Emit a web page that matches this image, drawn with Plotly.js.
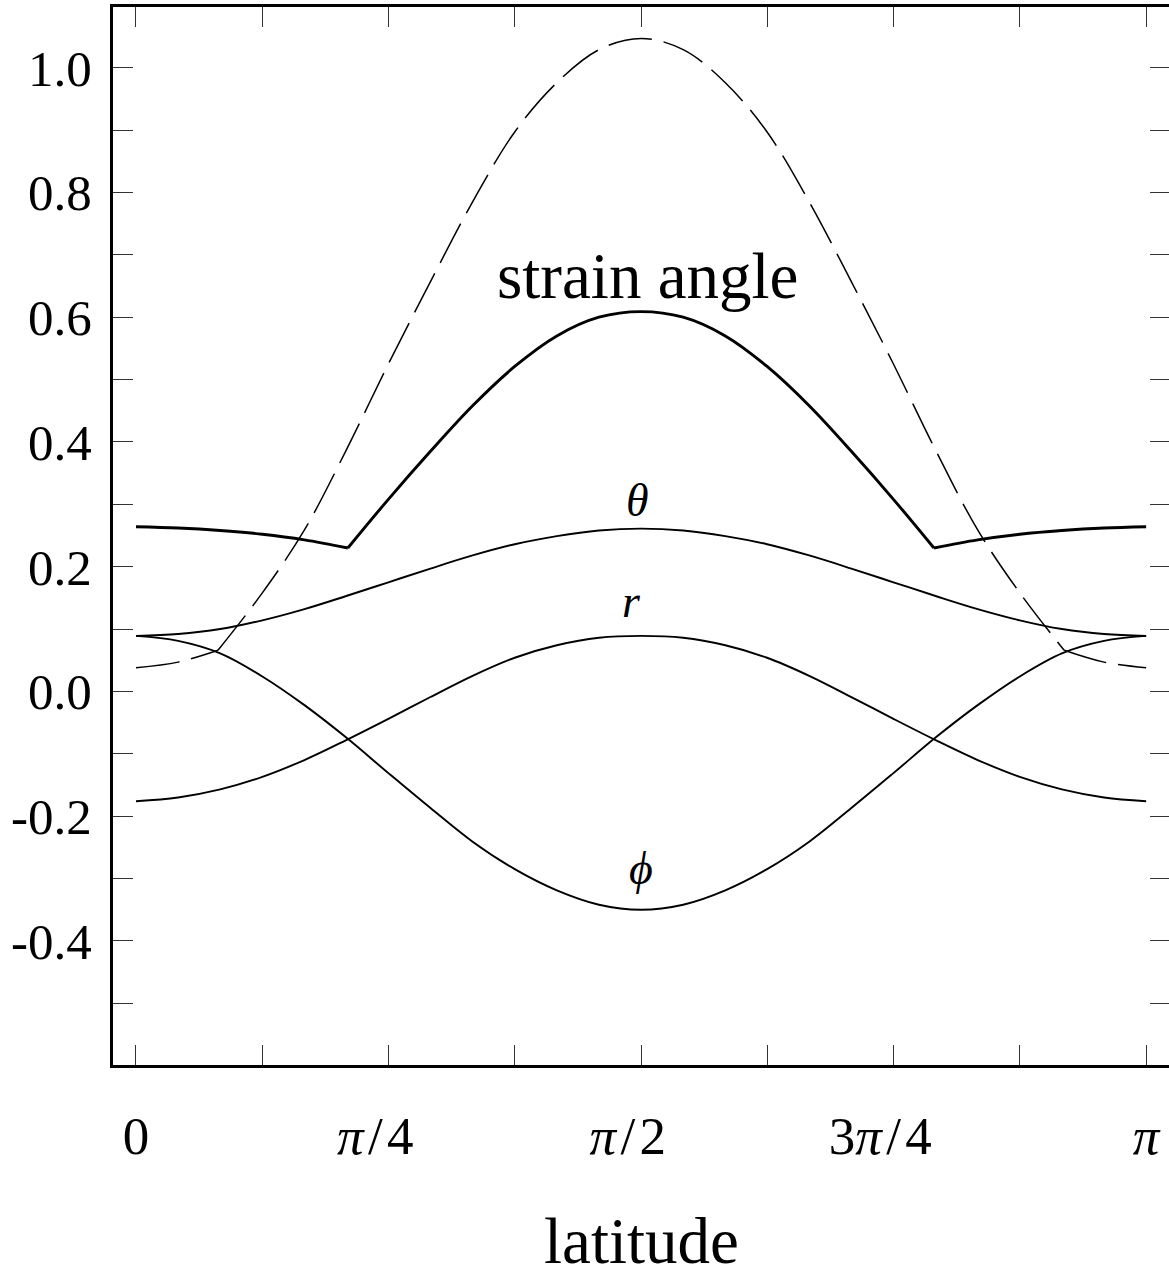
<!DOCTYPE html>
<html>
<head>
<meta charset="utf-8">
<script src="https://cdn.plot.ly/plotly-3.0.1.min.js"></script>
<style>
html, body { margin: 0; padding: 0; overflow: hidden; background: #fff; }
#chart { width: 1176px; height: 1277px; }
</style>
</head>
<body>
<div id="chart"></div>
<script>
// latitude samples (radians)
const latitude = [0, 0.131, 0.262, 0.393, 0.524, 0.654, 0.785, 0.916, 1.047, 1.178, 1.309, 1.440, 1.571,
                  1.702, 1.833, 1.963, 2.094, 2.225, 2.356, 2.487, 2.618, 2.749, 2.880, 3.011, 3.142];
const thetaVals = [0.089, 0.092, 0.100, 0.114, 0.132, 0.153, 0.175, 0.197, 0.218, 0.236, 0.249, 0.258, 0.261,
                   0.258, 0.249, 0.236, 0.218, 0.197, 0.175, 0.153, 0.132, 0.114, 0.100, 0.092, 0.089];
const rVals = [-0.176, -0.170, -0.157, -0.137, -0.110, -0.078, -0.044, -0.009, 0.025, 0.054, 0.074, 0.086, 0.089,
               0.086, 0.074, 0.054, 0.025, -0.009, -0.044, -0.078, -0.110, -0.137, -0.157, -0.170, -0.176];
const phiVals = [0.089, 0.081, 0.061, 0.024, -0.022, -0.074, -0.131, -0.187, -0.241, -0.285, -0.319, -0.342, -0.350,
                 -0.342, -0.319, -0.285, -0.241, -0.187, -0.131, -0.074, -0.022, 0.024, 0.061, 0.081, 0.089];

// dashed curve (kinks where it meets the phi curve, at indices 2 and 22)
const dashedLat = [0, 0.131, 0.255, 0.393, 0.524, 0.654, 0.785, 0.916, 1.047, 1.178, 1.309, 1.440, 1.571,
                   1.702, 1.833, 1.963, 2.094, 2.225, 2.356, 2.487, 2.618, 2.749, 2.887, 3.011, 3.142];
const dashedVals = [0.038, 0.047, 0.066, 0.158, 0.259, 0.387, 0.525, 0.657, 0.785, 0.897, 0.976, 1.029, 1.047,
                    1.029, 0.976, 0.897, 0.785, 0.657, 0.525, 0.387, 0.259, 0.158, 0.066, 0.047, 0.038];
const dashedKinks = [2, 22];

// strain angle (thick), kinks at indices 5 and 19
const strainLat = [0, 0.131, 0.262, 0.393, 0.524, 0.659, 0.785, 0.916, 1.047, 1.178, 1.309, 1.440, 1.571,
                   1.702, 1.833, 1.963, 2.094, 2.225, 2.356, 2.482, 2.618, 2.749, 2.880, 3.011, 3.142];
const strainVals = [0.264, 0.262, 0.258, 0.252, 0.243, 0.230, 0.308, 0.385, 0.458, 0.521, 0.570, 0.600, 0.609,
                    0.600, 0.570, 0.521, 0.458, 0.385, 0.308, 0.230, 0.243, 0.252, 0.258, 0.262, 0.264];
const strainKinks = [5, 19];

const xTickVals = [0, 0.3927, 0.7854, 1.1781, 1.5708, 1.9635, 2.3562, 2.7489, 3.1416];
const xTickText = ['0', '', '<i>π</i>\u200a/\u200a4\u2002', '', '<i>π</i>\u200a/\u200a2\u2002', '',
                   '3<i>π</i>\u200a/\u200a4\u2002', '', '<i>π</i>'];
const yTickVals = [-0.5, -0.4, -0.3, -0.2, -0.1, 0.0, 0.1, 0.2, 0.3, 0.4, 0.5, 0.6, 0.7, 0.8, 0.9, 1.0];
const yTickText = ['', '-0.4', '', '-0.2', '', '0.0', '', '0.2', '', '0.4', '', '0.6', '', '0.8', '', '1.0'];

const curveLabels = [
  {text: 'strain angle', x: 1.590, y: 0.666, size: 65, italic: false},
  {text: 'θ', x: 1.560, y: 0.306, size: 46, italic: true},
  {text: 'r', x: 1.542, y: 0.144, size: 46, italic: true},
  {text: 'ϕ', x: 1.571, y: -0.284, size: 46, italic: true}
];

const font = 'Liberation Serif, Times New Roman, DejaVu Serif, serif';

function segments(xs, ys, kinks, line) {
  const cuts = [0].concat(kinks, [xs.length - 1]);
  const out = [];
  for (let i = 0; i < cuts.length - 1; i++) {
    out.push({x: xs.slice(cuts[i], cuts[i + 1] + 1), y: ys.slice(cuts[i], cuts[i + 1] + 1),
              mode: 'lines', line: Object.assign({shape: 'spline', smoothing: 1}, line)});
  }
  return out;
}

const thin = {color: '#000', width: 1.9, shape: 'spline', smoothing: 1};
const traces = [].concat(
  segments(dashedLat, dashedVals, dashedKinks, {color: '#000', width: 1.5, dash: '44px,12px'}),
  [{x: latitude, y: thetaVals, mode: 'lines', line: thin},
   {x: latitude, y: rVals, mode: 'lines', line: thin},
   {x: latitude, y: phiVals, mode: 'lines', line: thin}],
  segments(strainLat, strainVals, strainKinks, {color: '#000', width: 2.9})
);

const layout = {
  width: 1176, height: 1277,
  margin: {l: 113, r: 6, t: 7, b: 212},
  paper_bgcolor: '#fff', plot_bgcolor: '#fff',
  showlegend: false,
  font: {family: font, color: '#000'},
  xaxis: {
    range: [-0.0715, 3.2162],
    tickmode: 'array', tickvals: xTickVals, ticktext: xTickText,
    ticks: 'inside', ticklen: 20, tickwidth: 1, tickcolor: '#333',
    showline: true, linewidth: 3, linecolor: '#000', mirror: 'ticks',
    showgrid: false, zeroline: false,
    tickfont: {family: font, size: 53, color: '#000'},
    ticklabelstandoff: 22,
    title: {text: 'latitude', font: {family: font, size: 65, color: '#000'}, standoff: 60}
  },
  yaxis: {
    range: [-0.599, 1.0974],
    tickmode: 'array', tickvals: yTickVals, ticktext: yTickText,
    ticks: 'inside', ticklen: 20, tickwidth: 1, tickcolor: '#333',
    showline: true, linewidth: 3, linecolor: '#000', mirror: 'ticks',
    showgrid: false, zeroline: false,
    tickfont: {family: font, size: 51, color: '#000'},
    ticklabelstandoff: 8
  },
  annotations: curveLabels.map(l => ({
    x: l.x, y: l.y, xref: 'x', yref: 'y',
    text: l.italic ? '<i>' + l.text + '</i>' : l.text,
    showarrow: false, xanchor: 'center', yanchor: 'middle',
    font: {family: font, size: l.size, color: '#000'}
  }))
};

Plotly.newPlot('chart', traces, layout, {staticPlot: true, displayModeBar: false});
</script>
</body>
</html>
